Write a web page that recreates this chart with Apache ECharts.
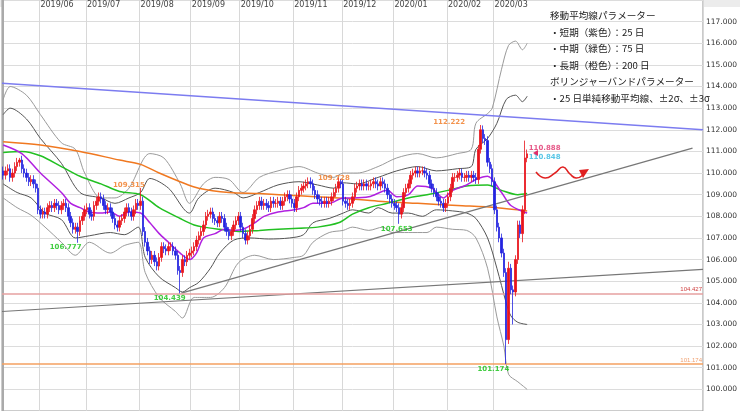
<!DOCTYPE html>
<html><head><meta charset="utf-8">
<script src="https://cdn.jsdelivr.net/npm/echarts@6/dist/echarts.min.js"></script>
<style>html,body{margin:0;padding:0;background:#fff}#c{width:740px;height:411px}</style>
</head><body><div id="c"></div>
<script>
// ---- data ----
const closes = [
109.9,110.1,110.2,109.8,110.0,110.3,110.5,110.6,110.2,110.0,
109.8,109.6,109.7,109.5,109.3,108.3,108.1,108.2,108.1,108.4,
108.5,108.4,108.6,108.5,108.3,108.5,108.6,108.4,108.0,107.7,
107.4,107.5,107.3,107.8,108.0,108.3,108.4,108.1,108.0,108.5,
108.7,108.9,108.8,108.5,108.3,108.4,108.2,107.9,107.6,107.5,
107.8,107.9,108.2,108.4,108.2,108.0,108.3,108.6,108.5,108.7,
107.3,106.8,106.4,106.0,106.2,105.9,105.7,106.1,106.6,106.5,
106.4,106.6,106.6,106.4,106.2,105.5,105.4,106.0,105.9,106.2,
106.3,106.4,106.6,106.9,107.1,107.3,107.6,108.0,108.1,108.2,
107.9,107.8,107.7,108.0,107.9,107.5,107.3,107.1,107.3,107.6,
107.8,108.0,107.5,107.2,106.9,107.1,107.4,107.9,108.3,108.5,
108.7,108.5,108.6,108.5,108.4,108.7,108.6,108.6,108.7,108.5,
108.7,108.9,109.0,108.8,108.6,108.4,108.9,109.2,109.3,109.4,
109.5,109.6,109.5,109.2,109.0,108.8,108.7,108.6,108.7,108.6,
108.7,108.9,109.1,109.3,109.6,109.5,108.7,108.6,108.5,108.6,
108.9,109.3,109.4,109.5,109.4,109.5,109.4,109.4,109.5,109.6,
109.5,109.4,109.6,109.5,109.3,109.0,108.8,108.6,108.5,108.4,
108.1,108.4,109.1,109.3,109.5,109.9,110.0,110.1,110.0,110.1,
110.1,110.0,109.9,109.5,109.3,109.1,108.9,108.7,108.6,108.4,
108.6,108.9,109.3,109.8,109.8,109.9,110.0,109.8,109.8,109.9,
109.8,109.9,109.8,109.7,111.1,112.0,111.6,111.5,110.5,110.2,
109.6,108.3,107.5,107.0,106.3,105.4,102.3,105.6,104.6,104.5,
106.0,107.6,107.2,108.3,110.7,110.888];
const firstOpen = 110.1;
const wick = 0.2;
const highOverrides = {7:110.7, 59:109.315, 145:109.728, 205:112.222, 224:111.5, 217:105.9};
const lowOverrides = {32:106.777, 76:104.439, 170:107.653, 216:101.174, 219:103.0, 223:106.8};
const ma25 = [[0,111.3],[8,110.9],[16,110.0],[25,109.1],[29,108.6],[33,108.4],[37,108.2],[42,108.15],[46,108.2],[50,108.0],[54,108.2],[59,108.15],[63,107.7],[67,107.2],[71,106.8],[76,106.3],[80,106.0],[83,106.3],[86,107.0],[91,107.2],[95,107.4],[99,107.35],[103,107.4],[108,107.7],[112,108.0],[118,108.2],[125,108.3],[129,108.4],[133,108.6],[140,108.6],[146,108.85],[150,108.85],[157,108.9],[165,109.2],[169,108.9],[174,109.0],[178,109.4],[184,109.3],[189,108.85],[193,109.2],[199,109.45],[203,109.7],[208,109.85],[214,109.1],[218,108.5],[225,108.15]];
const ma75 = [[0,110.95],[8,111.0],[16,110.8],[25,110.3],[33,109.85],[42,109.5],[50,109.15],[59,109.0],[67,108.4],[76,107.9],[82,107.6],[86,107.5],[93,107.4],[101,107.3],[110,107.35],[118,107.4],[127,107.45],[135,107.5],[144,107.7],[150,108.1],[157,108.4],[165,108.6],[174,108.85],[182,109.0],[191,109.2],[199,109.4],[208,109.45],[214,109.2],[221,109.0],[225,109.05]];
const ma200 = [[0,111.45],[16,111.3],[33,111.0],[50,110.6],[59,110.4],[67,110.0],[76,109.6],[84,109.3],[97,109.1],[110,109.05],[127,108.95],[144,108.85],[161,108.7],[178,108.6],[195,108.5],[212,108.4],[225,108.25]];
const bbUp3 = [[0,113.4],[3,114.0],[10,113.6],[16,112.7],[25,111.4],[31,111.1],[35,110.0],[42,108.85],[48,108.85],[54,109.3],[63,110.9],[69,110.7],[76,109.5],[80,108.6],[86,109.5],[91,109.8],[97,109.7],[103,109.1],[110,109.8],[118,110.1],[127,110.3],[135,110.0],[142,109.8],[146,110.0],[152,110.0],[161,110.3],[169,110.7],[178,110.9],[186,110.7],[195,110.9],[201,111.1],[203,112.3],[208,112.75],[210,113.0],[214,114.8],[217,115.9],[220,116.1],[223,115.7],[225,116.0]];
const bbUp2 = [[0,112.7],[3,113.0],[10,112.5],[16,111.6],[25,110.45],[33,109.1],[42,108.85],[48,108.6],[54,108.85],[59,109.1],[63,109.75],[71,109.3],[80,108.15],[84,108.85],[91,109.3],[99,109.1],[103,108.85],[110,109.1],[118,109.45],[127,109.6],[135,109.45],[142,109.3],[146,109.55],[152,109.5],[161,109.8],[169,110.1],[178,110.3],[186,110.1],[195,110.2],[201,110.3],[203,111.1],[208,111.6],[212,112.3],[216,113.4],[220,113.6],[223,113.3],[225,113.55]];
const bbLo2 = [[0,109.5],[6,109.1],[12,108.85],[18,108.15],[25,107.85],[31,107.0],[37,107.1],[46,107.25],[52,107.15],[58,107.5],[61,106.1],[67,105.2],[74,104.7],[77,104.5],[80,104.7],[84,104.95],[89,105.6],[93,106.3],[99,106.9],[106,107.0],[114,106.95],[123,107.0],[129,107.15],[133,107.7],[140,107.9],[146,108.15],[150,108.3],[157,108.15],[161,108.4],[167,108.15],[174,108.15],[180,108.0],[186,108.3],[193,108.25],[199,108.15],[203,107.9],[208,107.0],[212,105.6],[216,104.0],[218,103.4],[221,103.1],[225,103.0]];
const bbLo3 = [[0,108.85],[6,108.4],[12,108.05],[18,107.5],[25,106.8],[31,106.2],[37,106.8],[46,106.3],[52,106.65],[58,106.8],[61,105.4],[67,104.25],[74,103.6],[77,103.3],[82,104.25],[89,104.25],[95,104.7],[101,105.85],[108,106.2],[116,106.0],[125,106.1],[129,106.2],[133,106.8],[140,107.25],[146,107.35],[150,107.5],[157,107.35],[163,107.5],[167,107.25],[174,107.25],[182,107.25],[186,107.5],[193,107.4],[199,107.35],[203,107.0],[208,105.6],[212,103.35],[215,102.0],[217,100.7],[221,100.35],[225,100.0]];
const blueTrend = [[-0.5,114.15],[300.5,112.0]];
const grayTrendLow = [[-0.5,103.6],[300.5,105.55]];
const grayTrendUp = [[76.5,104.45],[296,111.15]];
const hLines = [{v:104.427,t:'104.427',c:'#e6a0a0',tc:'#d04040'},{v:101.174,t:'101.174',c:'#f5a060',tc:'#f0a070'}];
const tags = [
 {p:[54,109.43],t:'109.315',c:'#f07820'},{p:[26.8,106.55],t:'106.777',c:'#10c010'},
 {p:[71.5,104.2],t:'104.439',c:'#10c010'},{p:[142,109.76],t:'109.728',c:'#f07820'},
 {p:[169,107.42],t:'107.653',c:'#10c010'},{p:[191.5,112.33],t:'112.222',c:'#f07820'},
 {p:[210.5,100.93],t:'101.174',c:'#10c010'},{p:[232.5,111.13],t:'110.888',c:'#e0306a'},
 {p:[232.5,110.72],t:'110.848',c:'#30b8e0'}];
const N = 301;
const startDate = '2019-05-10';
const legendLines = ['移動平均線パラメーター','・短期（紫色）：25 日','・中期（緑色）：75 日','・長期（橙色）：200 日','ボリンジャーバンドパラメーター','・25 日単純移動平均線、±2σ、±3σ'];

// ---- build ----
const dates=[], first=[];
let d=new Date(startDate+'T00:00:00Z'), prevM=d.getUTCMonth();
while(dates.length<closes.length){
  const wd=d.getUTCDay();
  if(wd!==0&&wd!==6){
    const m=d.getUTCMonth();
    first.push(dates.length>0&&m!==prevM);
    prevM=m;
    dates.push(d.getUTCFullYear()+'/'+String(m+1).padStart(2,'0'));
  }
  d=new Date(d.getTime()+86400000);
}
while(dates.length<N){dates.push('');first.push(false);}
const ohlc = closes.map((c,i)=>{
  const o = i===0?firstOpen:closes[i-1];
  const h = highOverrides[i]!==undefined?highOverrides[i]:Math.max(o,c)+wick;
  const l = lowOverrides[i]!==undefined?lowOverrides[i]:Math.min(o,c)-wick;
  return [o,c,l,h];
});
const isFirst=(i)=>!!first[i];
const lineS=(data,color,w)=>({type:'line',data,showSymbol:false,symbol:'none',smooth:0.3,lineStyle:{color,width:w},silent:true,z:3});
const trendS=(data,color,w)=>({type:'line',xAxisIndex:1,data,showSymbol:false,symbol:'none',lineStyle:{color,width:w},silent:true,z:4});
const series=[
 lineS(bbUp3,'#9a9a9a',1),lineS(bbLo3,'#9a9a9a',1),lineS(bbUp2,'#555',1),lineS(bbLo2,'#555',1),
 lineS(ma200,'#f07820',1.5),lineS(ma75,'#22c022',1.5),lineS(ma25,'#b020e0',1.5),
 {type:'candlestick',data:ohlc,barWidth:2,z:5,
  itemStyle:{color:'#e8141c',color0:'#2424e0',borderColor:'#e8141c',borderColor0:'#2424e0',borderWidth:0.8}},
 trendS(blueTrend,'#7c7cf0',1.5),trendS(grayTrendLow,'#777',1.2),trendS(grayTrendUp,'#777',1.2),
 {type:'line',xAxisIndex:1,data:[],markLine:{silent:true,symbol:'none',
   data:hLines.map(h=>({yAxis:h.v,lineStyle:{color:h.c,width:1.5,type:'solid'},
     label:{show:true,position:'insideEndTop',formatter:h.t,color:h.tc,fontSize:6,distance:1}}))}},
 {type:'scatter',xAxisIndex:1,symbolSize:0,silent:true,z:6,
  data:tags.map(t=>({value:t.p,label:{show:true,position:'inside',formatter:t.t,color:t.c,fontSize:7,fontWeight:'bold',fontFamily:'DejaVu Sans'}}))}
];
const chart=echarts.init(document.getElementById('c'),null,{renderer:'canvas'});
chart.setOption({
 animation:false,
 grid:{left:2,right:30,top:0,height:415,show:true,borderColor:'#999',borderWidth:1,backgroundColor:'#fff'},
 xAxis:[
  {type:'category',data:dates,position:'top',boundaryGap:true,
   axisLine:{show:false},axisTick:{show:false},
   axisLabel:{inside:true,interval:isFirst,align:'left',margin:1,fontSize:8,color:'#444',fontFamily:'DejaVu Sans',verticalAlign:'top'},
   splitLine:{show:true,interval:isFirst,lineStyle:{color:'#d8d8d8',width:1}}},
  {type:'value',min:-0.5,max:N-0.5,show:false}
 ],
 yAxis:{type:'value',position:'right',min:99,max:118,interval:1,
  axisLine:{show:true,lineStyle:{color:'#aaa',width:2}},axisTick:{show:false},
  axisLabel:{formatter:v=>v.toFixed(3),fontSize:7.5,color:'#333',margin:3,fontFamily:'DejaVu Sans',
   showMinLabel:false,showMaxLabel:false},
  splitLine:{lineStyle:{color:'#dcdcdc'}}},
 graphic:[
  {type:'rect',shape:{x:0,y:0,width:740,height:7},style:{fill:'#ececec'},z:-10,silent:true},
  ...legendLines.map((t,i)=>({type:'text',x:550,y:11+i*16.5,style:{text:t,fontSize:9.6,fill:'#222',fontFamily:'Noto Sans CJK JP'},z:10})),
  {type:'polyline',shape:{points:[[536,172],[545,178],[555,173],[563,167],[570,174],[576,178],[583,175]],smooth:0.5},style:{stroke:'#e02020',lineWidth:1.6,fill:null},z:10},
  {type:'polygon',shape:{points:[[579,170],[589,169],[583,178]]},style:{fill:'#e02020'},z:10},
  {type:'polygon',shape:{points:[[533,153],[538,150],[538,156]]},style:{fill:'#e0306a'},z:10}
 ],
 series
});
</script></body></html>
